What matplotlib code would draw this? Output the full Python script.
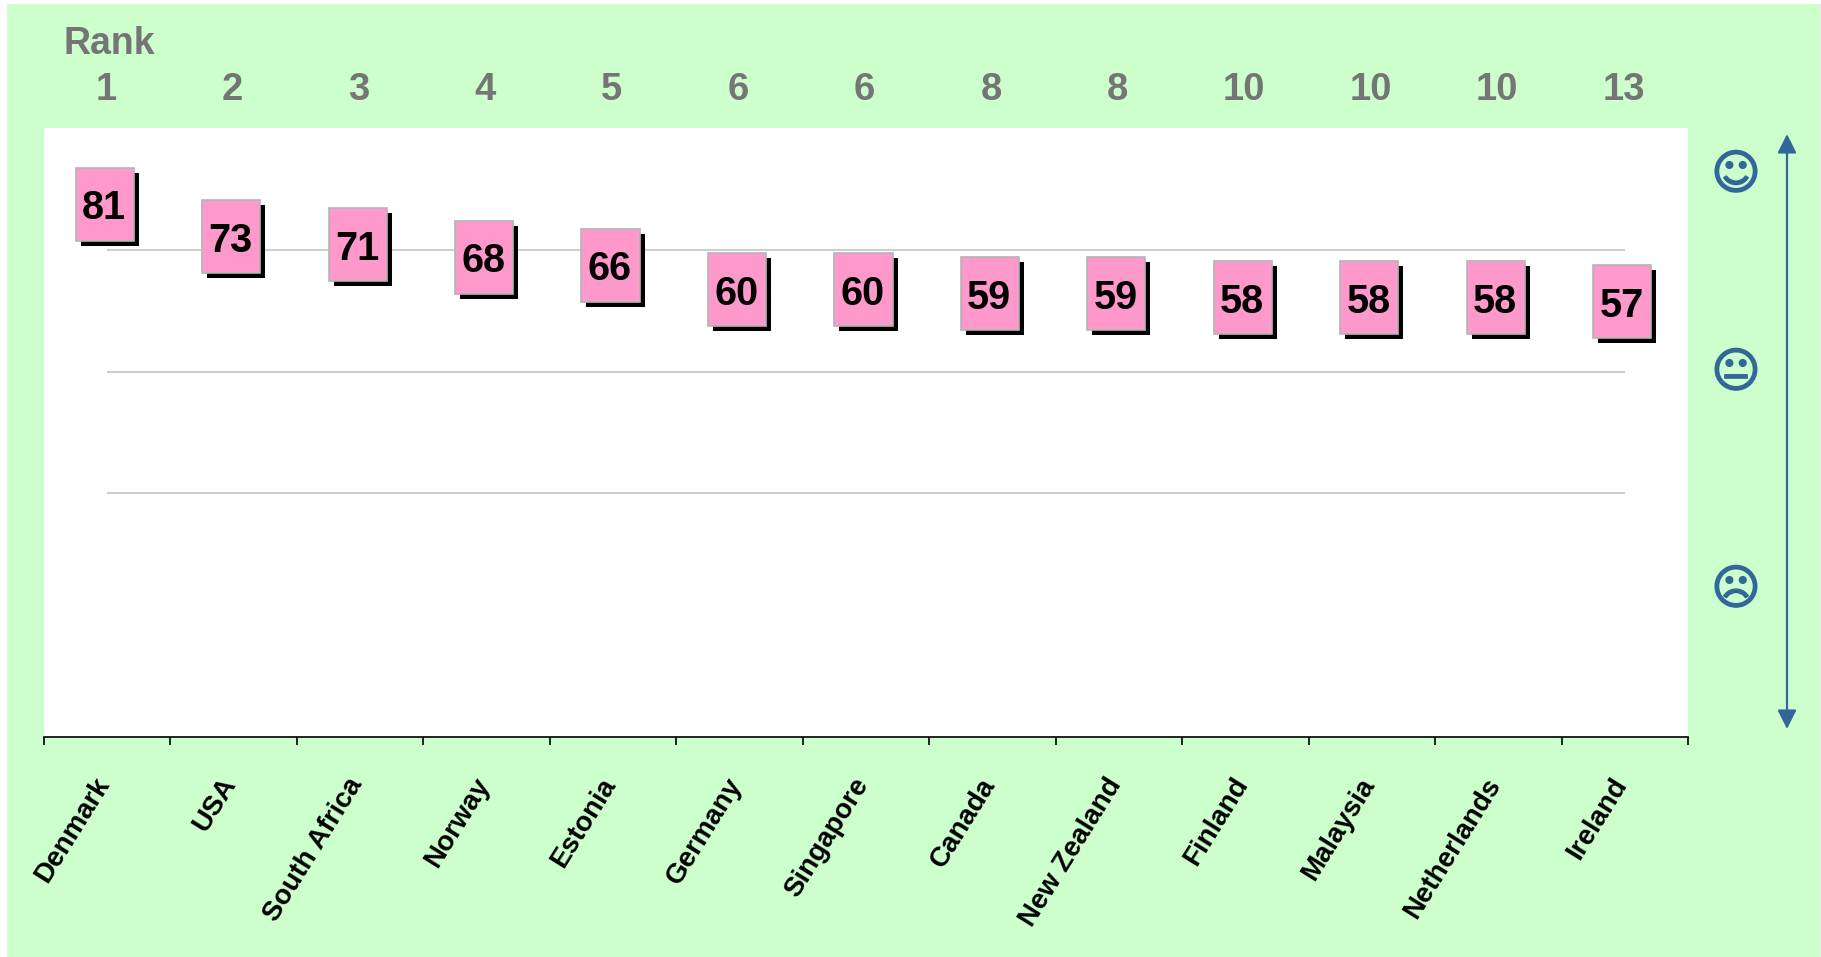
import matplotlib
matplotlib.use('Agg')
import matplotlib.pyplot as plt
import matplotlib.patheffects as pe
from matplotlib.patches import Rectangle, FancyArrowPatch
from matplotlib.lines import Line2D
from matplotlib.transforms import Affine2D, blended_transform_factory
import numpy as np

countries = ['Denmark', 'USA', 'South Africa', 'Norway', 'Estonia', 'Germany', 'Singapore',
             'Canada', 'New Zealand', 'Finland', 'Malaysia', 'Netherlands', 'Ireland']
scores = [81, 73, 71, 68, 66, 60, 60, 59, 59, 58, 58, 58, 57]
ranks = [1, 2, 3, 4, 5, 6, 6, 8, 8, 10, 10, 10, 13]
grid_values = [70, 40, 10]
faces = ['\u263a', '\U0001F610', '\u2639']

GREEN = '#ccffcc'
PINK = '#ff99cc'
GREY = '#757575'
BLUE = '#336699'
W, H = 1821, 957

plt.rcParams['font.family'] = ['Liberation Sans', 'DejaVu Sans']

fig = plt.figure(figsize=(W / 100, H / 100), dpi=100, facecolor='white')

# green page behind everything
fig.add_artist(Rectangle((7 / W, 0), (W - 8) / W, 1 - 4 / H, transform=fig.transFigure,
                         facecolor=GREEN, edgecolor='none', zorder=-5))
fig.add_artist(Line2D([1820.5 / W, 1820.5 / W], [0, 1 - 4 / H], color='#a0a0a0', lw=1))

ax = fig.add_axes([44 / W, 1 - 737 / H, 1644 / W, 609 / H], facecolor='white')
ax.set_xlim(-0.5, 12.5)
ax.set_ylim(-50, 100)
for side in ['top', 'left', 'right']:
    ax.spines[side].set_visible(False)
ax.spines['bottom'].set_linewidth(1.2)
ax.set_yticks([])

x = np.arange(len(countries))
ax.set_xticks(np.arange(-0.5, 13, 1))
ax.set_xticklabels([])
ax.tick_params(axis='x', which='major', length=6, width=1.2)
# labels end a little left of the category centre
ax.set_xticks(x - 0.11, countries, minor=True, rotation=58, ha='right', rotation_mode='anchor',
              fontsize=20, fontweight='bold')
ax.tick_params(axis='x', which='minor', length=0, pad=26)

ax.hlines(grid_values, x[0], x[-1], color='#c4c4c4', lw=1.2, zorder=1)

# pink boxes with hard black shadow
shadow = ax.transData + Affine2D().translate(5, -5)
for xi, v in zip(x, scores):
    ax.add_patch(Rectangle((xi - 0.25, v - 8.8), 0.46, 18, facecolor='black', edgecolor='none',
                           transform=shadow, zorder=2))
    ax.add_patch(Rectangle((xi - 0.25, v - 8.8), 0.46, 18, facecolor=PINK, edgecolor='#b4b4b4',
                           lw=1.2, zorder=3))
    ax.text(xi - 0.025, v - 0.8, str(v), ha='center', va='center', fontsize=28.5,
            fontweight='bold', color='black', zorder=4)

# ranks above the panel
top = blended_transform_factory(ax.transData, fig.transFigure)
for xi, r in zip(x, ranks):
    ax.text(xi - 0.01, 1 - 90 / H, str(r), transform=top, ha='center', va='center', fontsize=27.5,
            fontweight='bold', color=GREY)
fig.text(64 / W, 1 - 54 / H, 'Rank', fontsize=27, fontweight='bold', color=GREY)

# faces and double arrow on the right
for y, f in zip([176, 374, 591], faces):
    fig.text(1736 / W, 1 - y / H, f, ha='center', va='center', fontsize=34, color=BLUE,
             family='DejaVu Sans',
             path_effects=[pe.withStroke(linewidth=1.2, foreground=BLUE)])
fig.add_artist(FancyArrowPatch(
    (1787 / W, 1 - 729 / H), (1787 / W, 1 - 134 / H), transform=fig.transFigure,
    arrowstyle='<|-|>,head_length=0.72,head_width=0.36', mutation_scale=16, color=BLUE, lw=1.6,
    shrinkA=0, shrinkB=0))

fig.savefig('out.png', dpi=100, facecolor='white')
